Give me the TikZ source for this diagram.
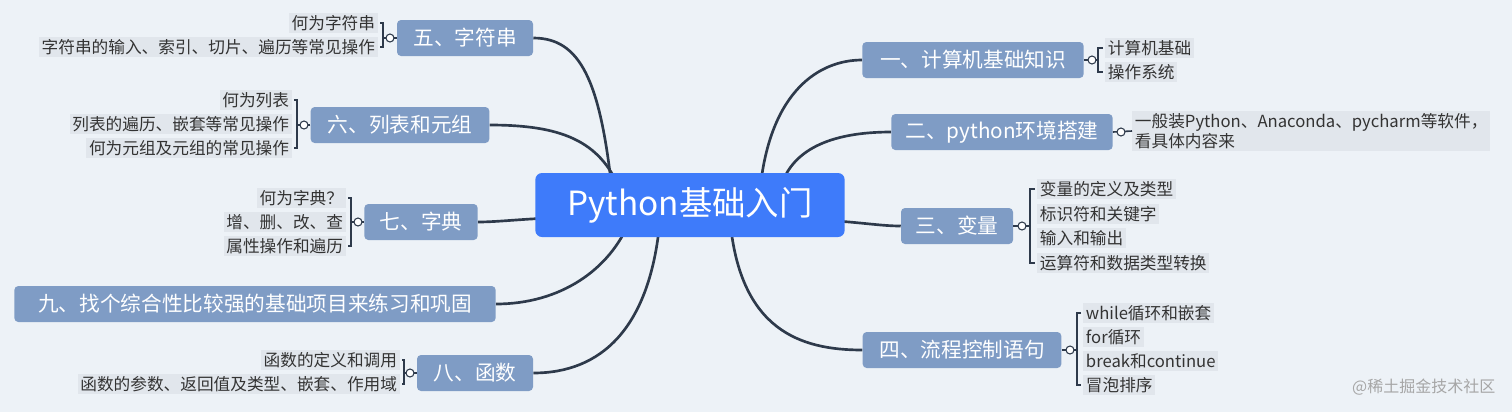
\documentclass[tikz,border=0pt]{standalone}
\usepackage{fontspec}
\newfontfamily\cjk{Noto Sans CJK SC}
\setmainfont{Noto Sans CJK SC}
\usetikzlibrary{backgrounds}
\definecolor{bg}{HTML}{EDF2F7}
\definecolor{brc}{HTML}{7F9CC5}
\definecolor{cen}{HTML}{3E7BFA}
\definecolor{lfc}{HTML}{E1E6EC}
\definecolor{ln}{HTML}{2E3A4B}
\definecolor{txt}{HTML}{333333}
\tikzset{
 br/.style={fill=brc, rounded corners=3pt, text=white, font=\cjk\fontsize{15.5}{17}\selectfont, minimum height=27pt, inner sep=2pt},
 lf/.style={fill=lfc, text=txt, font=\cjk\fontsize{12.5}{13}\selectfont, inner sep=2pt, minimum height=15.5pt},
 conn/.style={draw=ln, line width=2pt},
 thin/.style={draw=ln, line width=1.2pt},
 knob/.style={circle, draw=ln, fill=white, line width=0.8pt, inner sep=0pt, minimum size=6pt},
}
\begin{document}
\begin{tikzpicture}[x=0.75pt,y=-0.75pt]
\useasboundingbox (0,0) rectangle (1512,412);
% center
\node[fill=cen, rounded corners=5pt, text=white, font=\cjk\fontsize{25}{28}\selectfont, minimum width=232pt, minimum height=48pt] (c) at (690,205) {Python基础入门};
% branches
\node[br, minimum width=102pt] (b5) at (465,38) {五、字符串};
\node[br, minimum width=134pt] (b6) at (400,125) {六、列表和元组};
\node[br, minimum width=85pt] (b7) at (421,222) {七、字典};
\node[br, minimum width=361pt] (b9) at (255,304) {九、找个综合性比较强的基础项目来练习和巩固};
\node[br, minimum width=87pt] (b8) at (475,373) {八、函数};
\node[br, minimum width=166pt] (b1) at (973,60) {一、计算机基础知识};
\node[br, minimum width=166pt] (b2) at (1002,132) {二、python环境搭建};
\node[br, minimum width=84pt] (b3) at (957,226) {三、变量};
\node[br, minimum width=149pt] (b4) at (962,350) {四、流程控制语句};
% main connectors
\begin{scope}[on background layer]
\fill[bg] (0,0) rectangle (1512,412);
\coordinate (s5) at (612,190); \coordinate (s6) at (620,190);
\coordinate (s7) at (560,218); \coordinate (s9) at (630,220);
\coordinate (s8) at (660,220); \coordinate (s1) at (760,190);
\coordinate (s2) at (780,190); \coordinate (s3) at (820,220);
\coordinate (s4) at (730,220);
\draw[conn] (s5) .. controls (600,80) and (580,38) .. (b5.east);
\draw[conn] (s6) .. controls (600,140) and (560,125) .. (b6.east);
\draw[conn] (s7) .. controls (530,218) and (500,222) .. (b7.east);
\draw[conn] (s9) .. controls (610,270) and (560,304) .. (b9.east);
\draw[conn] (s8) .. controls (650,330) and (600,373) .. (b8.east);
\draw[conn] (s1) .. controls (770,90) and (820,60) .. (b1.west);
\draw[conn] (s2) .. controls (790,150) and (830,132) .. (b2.west);
\draw[conn] (s3) .. controls (860,222) and (880,226) .. (b3.west);
\draw[conn] (s4) .. controls (740,330) and (800,350) .. (b4.west);
\end{scope}
% leaves right
\node[lf, anchor=west] (l11) at (1105,48) {计算机基础};
\node[lf, anchor=west] (l12) at (1105,72) {操作系统};
\node[lf, anchor=west, align=left, font=\cjk\fontsize{12.5}{12.5}\selectfont] (l21) at (1132,131) {一般装Python、Anaconda、pycharm等软件，\\看具体内容来};
\node[lf, anchor=west] (l31) at (1037,189) {变量的定义及类型};
\node[lf, anchor=west] (l32) at (1037,214) {标识符和关键字};
\node[lf, anchor=west] (l33) at (1037,238) {输入和输出};
\node[lf, anchor=west] (l34) at (1037,263) {运算符和数据类型转换};
\node[lf, anchor=west] (l41) at (1083,313) {while循环和嵌套};
\node[lf, anchor=west] (l42) at (1083,337) {for循环};
\node[lf, anchor=west] (l43) at (1083,361) {break和continue};
\node[lf, anchor=west] (l44) at (1083,385) {冒泡排序};
% leaves left
\node[lf, anchor=east] (l51) at (378,23) {何为字符串};
\node[lf, anchor=east] (l52) at (378,47) {字符串的输入、索引、切片、遍历等常见操作};
\node[lf, anchor=east] (l61) at (292,100) {何为列表};
\node[lf, anchor=east] (l62) at (292,124) {列表的遍历、嵌套等常见操作};
\node[lf, anchor=east] (l63) at (292,148) {何为元组及元组的常见操作};
\node[lf, anchor=east] (l71) at (346,198) {何为字典？};
\node[lf, anchor=east] (l72) at (346,222) {增、删、改、查};
\node[lf, anchor=east] (l73) at (346,246) {属性操作和遍历};
\node[lf, anchor=east] (l81) at (400,360) {函数的定义和调用};
\node[lf, anchor=east] (l82) at (400,384) {函数的参数、返回值及类型、嵌套、作用域};
% brackets and knobs
\draw[thin] (b1.east) -- (1098,60);
\draw[thin] (1103,48) -- (1098,48) -- (1098,72) -- (1103,72);
\node[knob] (k1) at (1092,60) {};
\draw[thin] (b2.east) -- (l21.west);
\node[knob] (k2) at (1121,132) {};
\draw[thin] (b3.east) -- (1030,226);
\draw[thin] (1035,189) -- (1030,189) -- (1030,263) -- (1035,263);
\node[knob] (k3) at (1022,226) {};
\draw[thin] (b4.east) -- (1077,350);
\draw[thin] (1081,313) -- (1077,313) -- (1077,385) -- (1081,385);
\node[knob] (k4) at (1070,350) {};
\draw[thin] (b5.west) -- (383,38);
\draw[thin] (380,23) -- (383,23) -- (383,47) -- (380,47);
\node[knob] (k5) at (390,38) {};
\draw[thin] (b6.west) -- (297,125);
\draw[thin] (294,100) -- (297,100) -- (297,148) -- (294,148);
\node[knob] (k6) at (304,125) {};
\draw[thin] (b7.west) -- (351,222);
\draw[thin] (348,198) -- (351,198) -- (351,246) -- (348,246);
\node[knob] (k7) at (358,222) {};
\draw[thin] (b8.west) -- (404,373);
\draw[thin] (402,360) -- (404,360) -- (404,384) -- (402,384);
\node[knob] (k8) at (410,373) {};
% watermark
\node[text=gray!70, font=\cjk\fontsize{12}{14}\selectfont, anchor=east] (wm) at (1500,387) {@稀土掘金技术社区};
\end{tikzpicture}
\end{document}
